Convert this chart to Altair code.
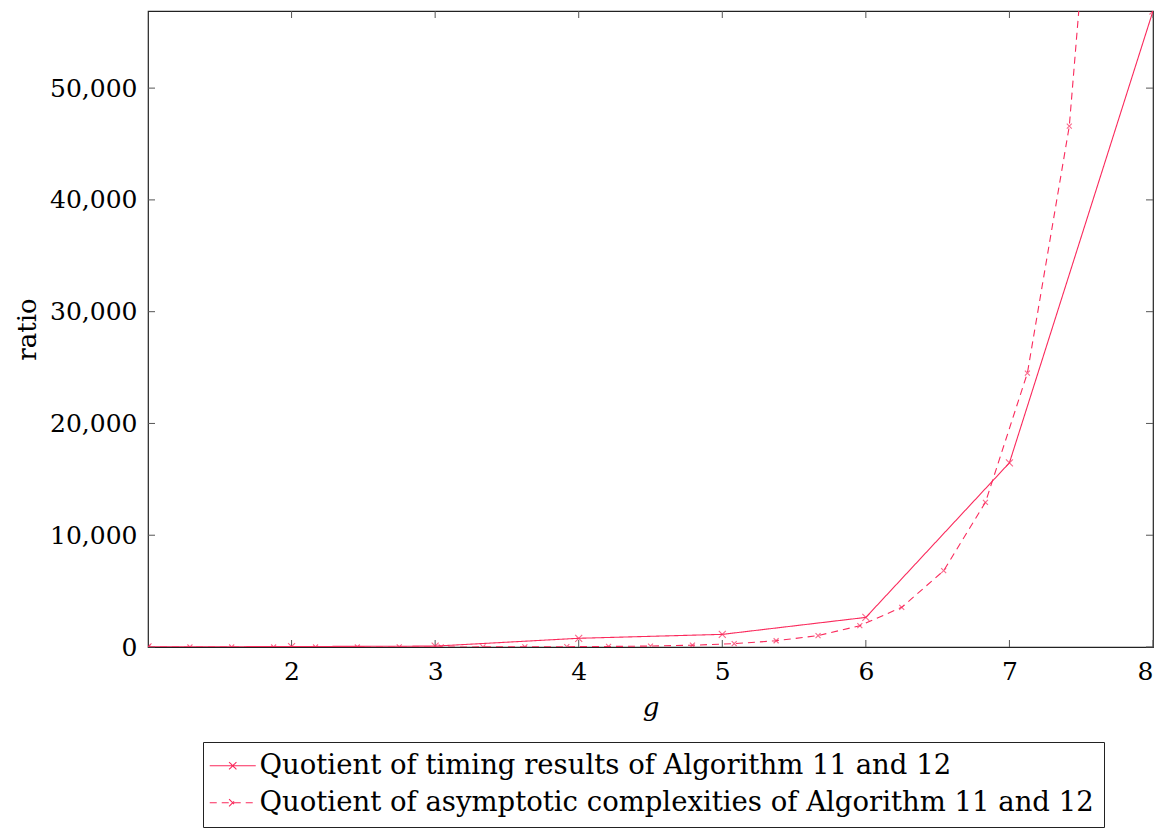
import altair as alt
import pandas as pd

RED = "#fa2a5c"
FONT = "DejaVu Serif"

SER_T = "Quotient of timing results of Algorithm 11 and 12"
SER_A = "Quotient of asymptotic complexities of Algorithm 11 and 12"

timing_g = [1, 2, 3, 4, 5, 6, 7, 8]
timing_ratio = [5, 40, 80, 780, 1130, 2650, 16480, 56900]

asym_g = [1.0, 1.292, 1.583, 1.875, 2.167, 2.458, 2.75, 3.042, 3.333, 3.625,
          3.917, 4.208, 4.5, 4.792, 5.083, 5.375, 5.667, 5.958, 6.25, 6.542,
          6.833, 7.125, 7.417, 7.708, 8.0]
asym_ratio = [0.05, 0.09, 0.17, 0.3, 0.6, 1.1, 2.1, 3.9, 7.2, 13.5,
              25, 46, 86, 160, 300, 560, 1020, 1905, 3550, 6825,
              12940, 24500, 46600, 92000, 178000]

x_ticks = [2, 3, 4, 5, 6, 7, 8]
y_ticks = [0, 10000, 20000, 30000, 40000, 50000]

W, H = 1005, 636

df = pd.concat([
    pd.DataFrame({"g": timing_g, "ratio": timing_ratio, "series": SER_T}),
    pd.DataFrame({"g": asym_g, "ratio": asym_ratio, "series": SER_A}),
])

xs = alt.Scale(domain=[1, 8], nice=False)
ys = alt.Scale(domain=[0, 56900], nice=False)

xax = alt.Axis(values=x_ticks, format="d", title="g", titleFontStyle="italic",
               labelPadding=12, titlePadding=10)
yax = alt.Axis(values=y_ticks, format=",d", title="ratio", labelPadding=11, titlePadding=9)

dash_scale = alt.Scale(domain=[SER_T, SER_A], range=[[1, 0], [7, 5]])

# centre the shorter first legend entry as in the reference (non-breaking spaces)
NB = "\\u00a0" * 8
label_expr = f"datum.value == '{SER_T}' ? '{NB}' + datum.label : datum.label"

base = alt.Chart(df)

lines = base.mark_line(clip=True, strokeWidth=1.1, color=RED).encode(
    x=alt.X("g:Q", scale=xs, axis=xax),
    y=alt.Y("ratio:Q", scale=ys, axis=yax),
    strokeDash=alt.StrokeDash("series:N", scale=dash_scale,
                              legend=alt.Legend(title=None, orient="none", legendX=55, legendY=731,
                                                labelExpr=label_expr)),
    detail="series:N",
)

pts_t = alt.Chart(df[df.series == SER_T]).mark_point(
    clip=True, shape="M-1,-1L1,1M-1,1L1,-1", filled=False, size=49, strokeWidth=1.1, color=RED
).encode(x=alt.X("g:Q", scale=xs), y=alt.Y("ratio:Q", scale=ys))

pts_a = alt.Chart(df[df.series == SER_A]).mark_point(
    clip=True, shape="M-1,-1L1,1M-1,1L1,-1", filled=False, size=25, strokeWidth=1.1, color=RED
).encode(x=alt.X("g:Q", scale=xs), y=alt.Y("ratio:Q", scale=ys))

xt = pd.DataFrame({"g": x_ticks})
yt = pd.DataFrame({"ratio": y_ticks})
TC = "#555"
xt_bot = alt.Chart(xt).mark_rule(color=TC, strokeWidth=1).encode(
    x=alt.X("g:Q", scale=xs), y=alt.value(H), y2=alt.value(H - 7))
xt_top = alt.Chart(xt).mark_rule(color=TC, strokeWidth=1).encode(
    x=alt.X("g:Q", scale=xs), y=alt.value(0), y2=alt.value(7))
yt_l = alt.Chart(yt).mark_rule(color=TC, strokeWidth=1).encode(
    y=alt.Y("ratio:Q", scale=ys), x=alt.value(0), x2=alt.value(7))
yt_r = alt.Chart(yt).mark_rule(color=TC, strokeWidth=1).encode(
    y=alt.Y("ratio:Q", scale=ys), x=alt.value(W - 7), x2=alt.value(W))

chart = alt.layer(xt_bot, xt_top, yt_l, yt_r, lines, pts_t, pts_a).properties(
    width=W, height=H,
    autosize=alt.AutoSizeParams(type="none"),
    padding={"left": 140, "top": 3, "right": 6, "bottom": 181},
).configure_view(
    stroke="#222", strokeWidth=1.2
).configure_axis(
    labelFont=FONT, labelFontSize=25, labelColor="black",
    titleFont=FONT, titleFontSize=26, titleColor="black", titleFontWeight="normal",
    domain=False, ticks=False, grid=False,
).configure_legend(
    labelFont=FONT, labelFontSize=27.5, labelColor="black",
    strokeColor="#222", padding=10, rowPadding=8, labelOffset=13, symbolOffset=6,
    symbolType="M-2.5,0L2.5,0M-0.4,-0.4L0.4,0.4M-0.4,0.4L0.4,-0.4",
    symbolSize=339, symbolStrokeColor=RED, symbolStrokeWidth=1.1,
    symbolFillColor="transparent", labelLimit=1200,
)

chart.save("out.html", embed_options={"renderer": "svg", "actions": False})
